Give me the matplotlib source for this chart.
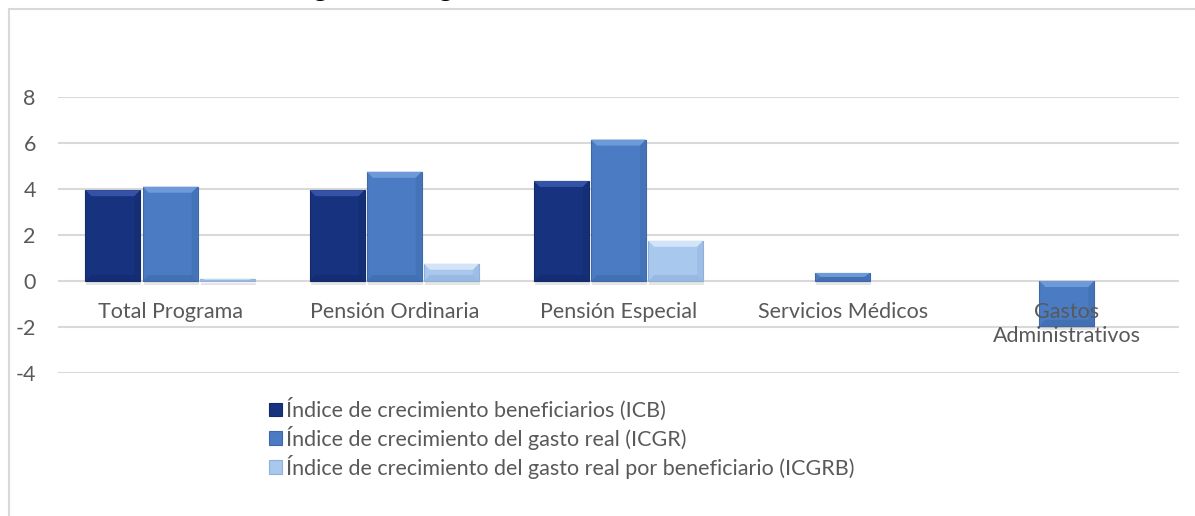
import numpy as np
import matplotlib
matplotlib.use("Agg")
import matplotlib.pyplot as plt
from matplotlib.patches import Patch, Polygon, Rectangle

plt.rcParams['font.family'] = ['Lato', 'DejaVu Sans']

# ==========================================
# Data
# ==========================================
categories = ["Total Programa", "Pensión Ordinaria", "Pensión Especial",
              "Servicios Médicos", "Gastos\nAdministrativos"]
series_names = ["Índice de crecimiento beneficiarios (ICB)",
                "Índice de crecimiento del gasto real (ICGR)",
                "Índice de crecimiento del gasto real por beneficiario (ICGRB)"]
icb = [3.95, 3.95, 4.35, 0.0, 0.0]
icgr = [4.1, 4.75, 6.15, 0.35, -1.95]
icgrb = [0.1, 0.75, 1.75, 0.0, 0.0]
yticks = [-4, -2, 0, 2, 4, 6, 8]
title = "Programa Régimen No Contributivo de Pensiones"

colors = ["#17337f", "#4a7bc3", "#a9c8ee"]
light = ["#3553a6", "#6f9ad8", "#d3e4f8"]
dark = ["#12296a", "#3e69a9", "#8fb0d9"]

W, H = 1195, 516
fig = plt.figure(figsize=(W / 100, H / 100), dpi=100)

# outer chart frame
fig.patches.append(Rectangle((8.5 / W, -0.1), 1.2, 1 - 8.5 / H + 0.1, transform=fig.transFigure,
                             facecolor='none', edgecolor='#d9d9d9', linewidth=1.5))
fig.text(0.5, 1 + 4 / H, title, ha='center', va='baseline', fontsize=22, color='black')

ax = fig.add_axes([58 / W, 1 - 373 / H, (1179 - 58) / W, (373 - 97) / H])
ax.set_facecolor('none')
for s in ax.spines.values():
    s.set_visible(False)

x = np.arange(len(categories))
width = 0.245
offsets = [-0.255, 0.0, 0.255]
ax.set_xlim(-0.5, len(categories) - 0.5)
ax.set_ylim(-4, 8)
ax.set_yticks(yticks)
ax.set_yticklabels([str(t) for t in yticks])
ax.tick_params(axis='y', length=0, pad=16, labelsize=15.5, labelcolor='#595959')
ax.set_xticks([])
ax.grid(axis='y', color='#d9d9d9', linewidth=1.5)
ax.set_axisbelow(True)

# px to data units
px_x = (len(categories)) / (1179 - 58)
px_y = 12 / (373 - 97)
bev = 6

for k, vals in enumerate([icb, icgr, icgrb]):
    bars = ax.bar(x + offsets[k], vals, width, color=colors[k], edgecolor=dark[k],
                  linewidth=0.8, zorder=3)
    for b in bars:
        h = b.get_height()
        if h == 0:
            b.set_visible(False)
            continue
        x0, y0 = b.get_x(), b.get_y()
        x1, y1 = x0 + b.get_width(), y0 + h
        lo, hi = min(y0, y1), max(y0, y1)
        # shadow
        ax.add_patch(Rectangle((x0 + 1 * px_x, lo - 4 * px_y), x1 - x0, hi - lo,
                               facecolor='#000000', alpha=0.10, linewidth=0, zorder=2))
        bx = bev * px_x
        by = min(bev * px_y, (hi - lo) / 2)
        # top bevel
        ax.add_patch(Polygon([(x0, hi), (x1, hi), (x1 - bx, hi - by), (x0 + bx, hi - by)],
                             facecolor=light[k], linewidth=0, zorder=4))
        # bottom bevel
        ax.add_patch(Polygon([(x0, lo), (x1, lo), (x1 - bx, lo + by), (x0 + bx, lo + by)],
                             facecolor=dark[k], alpha=0.6, linewidth=0, zorder=4))
        # right bevel
        ax.add_patch(Polygon([(x1, lo), (x1, hi), (x1 - bx, hi - by), (x1 - bx, lo + by)],
                             facecolor=dark[k], alpha=0.4, linewidth=0, zorder=4))

# category labels next to the zero line
for i, c in enumerate(categories):
    ax.annotate(c, xy=(i, 0), xytext=(0, -15), textcoords='offset points',
                ha='center', va='top', fontsize=15.5, color='#595959', zorder=6,
                linespacing=1.25)

handles = [Patch(facecolor=colors[k], edgecolor=dark[k], linewidth=0.8) for k in range(3)]
leg = fig.legend(handles, series_names, loc='upper left',
                 bbox_to_anchor=(269 / W, 1 - 398 / H), frameon=False,
                 fontsize=15.5, handlelength=0.6, handleheight=0.6, handletextpad=0.2,
                 labelspacing=0.22, borderaxespad=0, borderpad=0)
for t in leg.get_texts():
    t.set_color('#595959')

fig.savefig("out.png", dpi=100)
